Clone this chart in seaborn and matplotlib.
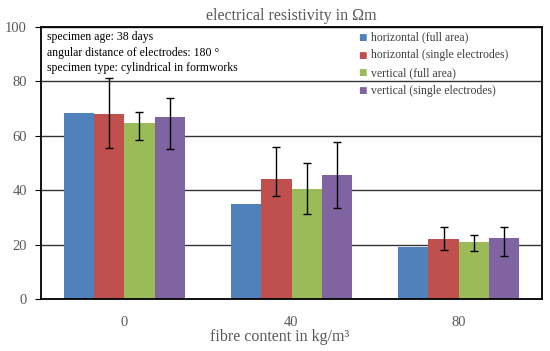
import seaborn as sns
import matplotlib.pyplot as plt
import numpy as np
import pandas as pd

# data
fibre = ["0", "40", "80"]
series = ["horizontal (full area)", "horizontal (single electrodes)",
          "vertical (full area)", "vertical (single electrodes)"]
h_full = [68.5, 35.1, 19.3]
h_single = [68.1, 44.0, 22.0]
v_full = [64.8, 40.6, 20.9]
v_single = [66.8, 45.6, 22.5]
# error bars (lower, upper); horizontal full area has none
h_single_err = [[12.6, 6.0, 3.8], [13.2, 11.9, 4.4]]
v_full_err = [[6.4, 9.2, 3.2], [3.9, 9.3, 2.7]]
v_single_err = [[11.5, 12.2, 6.8], [7.1, 12.1, 3.9]]

colors = ["#4F81BD", "#C0504D", "#9BBB59", "#8064A2"]

data = pd.DataFrame({
    "fibre": fibre * 4,
    "series": np.repeat(series, 3),
    "value": h_full + h_single + v_full + v_single,
})

sns.set_style("white")
plt.rcParams["font.family"] = ["Liberation Serif", "DejaVu Serif"]

fig = plt.figure(figsize=(5.5, 3.51), dpi=100)
ax = fig.add_axes([0.074, 0.148, 0.912, 0.775])

sns.barplot(data=data, x="fibre", y="value", hue="series", palette=colors,
            width=0.725, errorbar=None, saturation=1, ax=ax, legend=False,
            linewidth=0, zorder=2)

# error bars at bar centres
for k, err in [(1, h_single_err), (2, v_full_err), (3, v_single_err)]:
    xs = [p.get_x() + p.get_width() / 2 for p in ax.patches[k * 3:(k + 1) * 3]]
    vals = [h_full, h_single, v_full, v_single][k]
    ax.errorbar(xs, vals, yerr=err, fmt="none", ecolor="black",
                elinewidth=1, capsize=2.7, capthick=1, zorder=3)

ax.set_ylim(0, 100)
ax.set_xlim(-0.5, 2.5)
ax.set_yticks([0, 20, 40, 60, 80, 100])
ax.grid(axis="y", color="#333333", linewidth=1, zorder=0)
ax.set_axisbelow(True)
for s in ax.spines.values():
    s.set_visible(True)
    s.set_color("black")
    s.set_linewidth(1.3)
ax.tick_params(axis="y", length=4, color="black", labelsize=10.5,
               labelcolor="#595959", pad=6, left=True)
ax.tick_params(axis="x", length=0, labelsize=10.5, labelcolor="#595959", pad=12)

ax.set_xlabel("fibre content in kg/m³", fontsize=11.5, color="#595959", labelpad=0)
ax.xaxis.set_label_coords(0.476, -0.11)
ax.set_ylabel("")
ax.set_title("electrical resistivity in Ωm", fontsize=11.5, color="#595959", pad=5)

# info text
info = ["specimen age: 38 days",
        "angular distance of electrodes: 180 °",
        "specimen type: cylindrical in formworks"]
for i, t in enumerate(info):
    ax.text(0.012, 0.963 - i * 0.057, t, transform=ax.transAxes,
            fontsize=8.5, va="center", ha="left", color="black")

# legend
for i, (lab, c) in enumerate(zip(series, colors)):
    y = 0.963 - i * 0.066
    ax.text(0.633, y, "■", transform=ax.transAxes, color=c,
            fontsize=6.5, va="center", ha="left", family=["DejaVu Sans"])
    ax.text(0.658, y, lab, transform=ax.transAxes, color="#404040",
            fontsize=8.5, va="center", ha="left")

fig.savefig("out.png", dpi=100)
